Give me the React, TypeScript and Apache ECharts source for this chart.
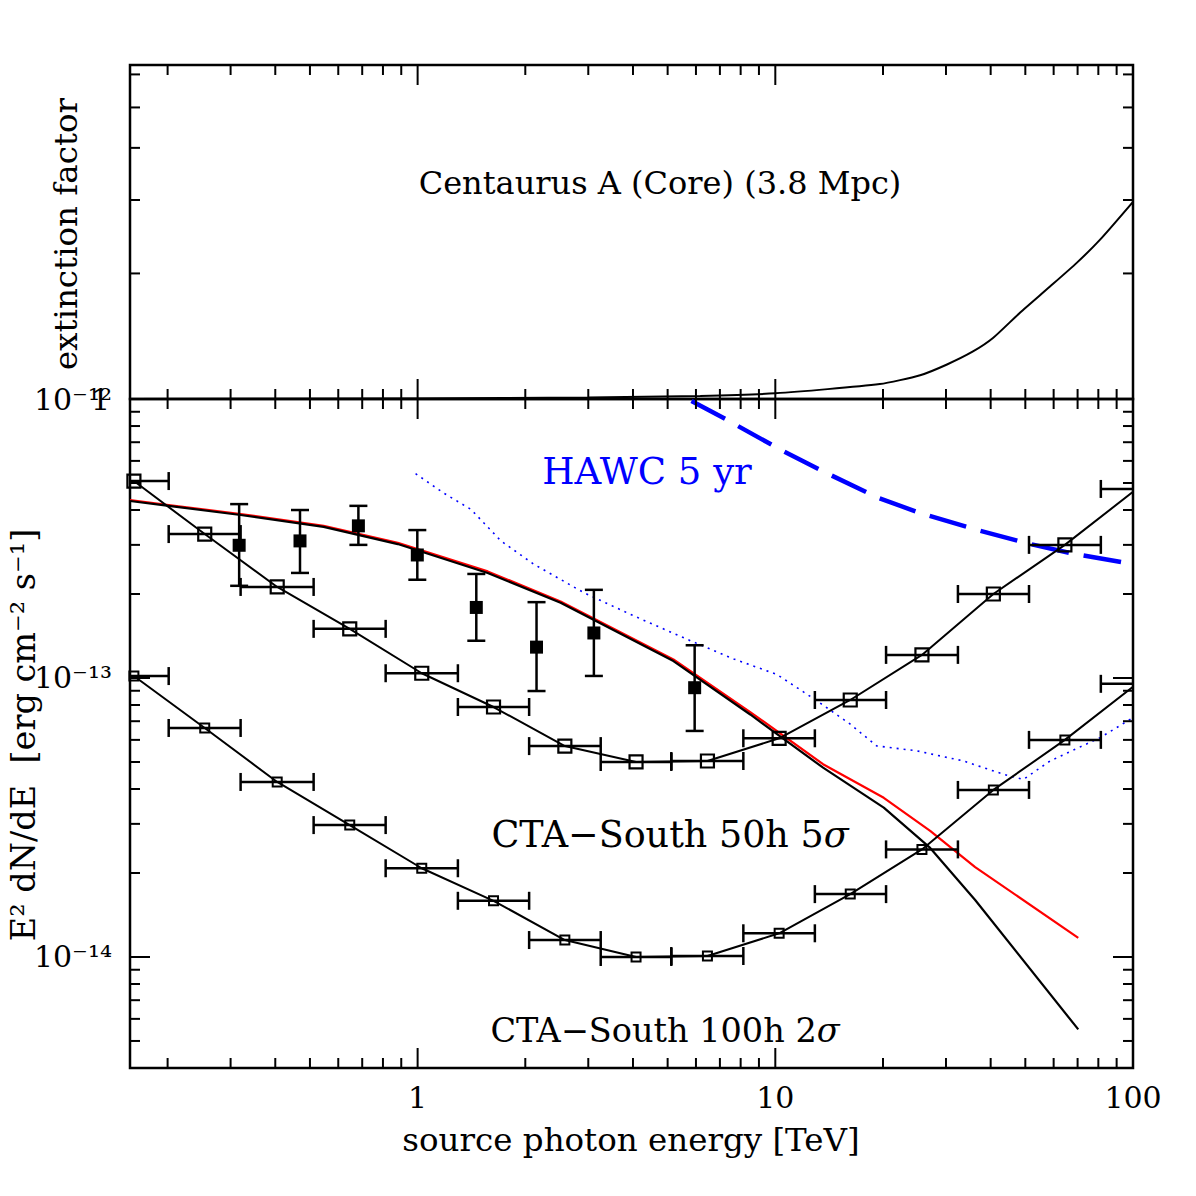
import React, { useEffect, useRef } from "react";
import * as echarts from "echarts";

const FONT = "DejaVu Serif";

// ---- data (energies in TeV, fluxes in units of 1e-13 erg cm^-2 s^-1) ----
const binLow = [0.127, 0.2014, 0.32, 0.512, 0.814, 1.296, 2.05, 3.25, 5.12, 8.14, 12.9, 20.4, 32.4, 51.2, 81.3];
const binMid = [0.161, 0.254, 0.405, 0.646, 1.027, 1.63, 2.58, 4.08, 6.46, 10.25, 16.2, 25.7, 40.7, 64.5, 102.4];
const binHigh = [0.2014, 0.32, 0.512, 0.814, 1.296, 2.05, 3.25, 5.12, 8.14, 12.9, 20.4, 32.4, 51.2, 81.3, 129];
const cta50h5s = [5.08, 3.28, 2.12, 1.5, 1.04, 0.787, 0.57, 0.5, 0.504, 0.608, 0.834, 1.21, 2.0, 3.0, 4.76];
const cta100h2s = [1.016, 0.662, 0.424, 0.297, 0.208, 0.159, 0.115, 0.1, 0.1008, 0.1216, 0.168, 0.243, 0.397, 0.6, 0.953];

const hessE = [0.317, 0.469, 0.683, 0.998, 1.459, 2.15, 3.11, 5.95];
const hessF = [2.99, 3.1, 3.51, 2.76, 1.79, 1.29, 1.45, 0.923];
const hessLo = [2.14, 2.38, 3.0, 2.25, 1.36, 0.898, 1.017, 0.646];
const hessHi = [4.2, 4.0, 4.14, 3.39, 2.36, 1.87, 2.07, 1.31];

const modelE = [0.157, 0.204, 0.32, 0.546, 0.88, 1.57, 2.51, 5.19, 8.51, 13.6, 20.1, 27.1, 36.2, 70.3];
const modelIntrinsic = [4.34, 4.16, 3.87, 3.51, 3.05, 2.41, 1.88, 1.165, 0.755, 0.491, 0.372, 0.283, 0.21, 0.117];
const modelAbsorbed = [4.31, 4.13, 3.84, 3.48, 3.02, 2.38, 1.86, 1.15, 0.74, 0.477, 0.343, 0.246, 0.16, 0.055];

const extE = [0.157, 1, 3, 6.17, 10, 19.6, 25.4, 30.2, 35.7, 40.6, 48.3, 58.6, 69.6, 80.9, 100];
const extFactor = [1.0, 1.003, 1.008, 1.017, 1.032, 1.086, 1.14, 1.21, 1.3, 1.4, 1.61, 1.86, 2.12, 2.41, 2.97];

const dotE = [0.987, 1.18, 1.41, 1.53, 1.71, 2.11, 2.92, 4.02, 5.79, 7.65, 10.1, 13.1, 16.2, 19.2, 24.9, 33.6, 43.4, 49.4, 58.6, 80.9, 100];
const dotF = [5.4, 4.61, 4.02, 3.6, 3.1, 2.56, 2.02, 1.67, 1.36, 1.17, 1.03, 0.827, 0.683, 0.571, 0.548, 0.504, 0.452, 0.433, 0.504, 0.611, 0.721];

const hawcE = [5.83, 7.25, 10.5, 14.06, 19.4, 25.9, 37.4, 51.6, 68.9, 100];
const hawcF = [9.84, 8.48, 6.51, 5.39, 4.42, 3.87, 3.37, 3.02, 2.78, 2.56];

// ---- axes ----
const X_MIN = 0.157;
const X_MAX = 100;
const YT_MIN = 1;
const YT_MAX = 6.32;
const YB_MIN = 0.04;
const YB_MAX = 10;
const Y_UNIT_EXP = -13;

const xMajorTicks = [1, 10, 100];
const xMinorTicks = [0.2, 0.3, 0.4, 0.5, 0.6, 0.7, 0.8, 0.9, 2, 3, 4, 5, 6, 7, 8, 9, 20, 30, 40, 50, 60, 70, 80, 90];
const yTopMajorTicks = [1];
const yTopMinorTicks = [2, 3, 4, 5, 6];
const yBotMajorTicks = [0.1, 1, 10];
const yBotMinorTicks = [0.05, 0.06, 0.07, 0.08, 0.09, 0.2, 0.3, 0.4, 0.5, 0.6, 0.7, 0.8, 0.9, 2, 3, 4, 5, 6, 7, 8, 9, 0.04];

const SUP: Record<string, string> = {
  "-": "\u207B", "0": "\u2070", "1": "\u00B9", "2": "\u00B2", "3": "\u00B3",
  "4": "\u2074", "5": "\u2075", "6": "\u2076", "7": "\u2077", "8": "\u2078", "9": "\u2079",
};

const zip = (a: number[], b: number[]) => a.map((v, i) => [v, b[i]]);

const MAJ = 20;
const MIN = 10;

function buildTicks(xMaj: number[], xMin: number[], yMaj: number[], yMin: number[], xRef: number, yRef: number) {
  const d: number[][] = [];
  xMaj.forEach((v) => d.push([v, yRef, 0, MAJ]));
  xMin.forEach((v) => d.push([v, yRef, 0, MIN]));
  yMaj.forEach((v) => d.push([xRef, v, 1, MAJ]));
  yMin.forEach((v) => d.push([xRef, v, 1, MIN]));
  return d;
}

const tickRender = (params: any, api: any) => {
  const kind = api.value(2);
  const len = api.value(3);
  const p = api.coord([api.value(0), api.value(1)]);
  const cs = params.coordSys;
  const style = { stroke: "#000", lineWidth: 2 };
  if (kind === 0) {
    const b = cs.y + cs.height;
    return {
      type: "group",
      children: [
        { type: "line", shape: { x1: p[0], y1: b, x2: p[0], y2: b - len }, style },
        { type: "line", shape: { x1: p[0], y1: cs.y, x2: p[0], y2: cs.y + len }, style },
      ],
    };
  }
  const r = cs.x + cs.width;
  return {
    type: "group",
    children: [
      { type: "line", shape: { x1: cs.x, y1: p[1], x2: cs.x + len, y2: p[1] }, style },
      { type: "line", shape: { x1: r, y1: p[1], x2: r - len, y2: p[1] }, style },
    ],
  };
};

const hBarRender = (params: any, api: any) => {
  const a = api.coord([api.value(0), api.value(2)]);
  const b = api.coord([api.value(1), api.value(2)]);
  const h = 9;
  const style = { stroke: "#000", lineWidth: 2.5 };
  return {
    type: "group",
    children: [
      { type: "line", shape: { x1: a[0], y1: a[1], x2: b[0], y2: b[1] }, style },
      { type: "line", shape: { x1: a[0], y1: a[1] - h, x2: a[0], y2: a[1] + h }, style },
      { type: "line", shape: { x1: b[0], y1: b[1] - h, x2: b[0], y2: b[1] + h }, style },
    ],
  };
};

const vBarRender = (params: any, api: any) => {
  const a = api.coord([api.value(0), api.value(1)]);
  const b = api.coord([api.value(0), api.value(2)]);
  const w = 9;
  const style = { stroke: "#000", lineWidth: 2.5 };
  return {
    type: "group",
    children: [
      { type: "line", shape: { x1: a[0], y1: a[1], x2: b[0], y2: b[1] }, style },
      { type: "line", shape: { x1: a[0] - w, y1: a[1], x2: a[0] + w, y2: a[1] }, style },
      { type: "line", shape: { x1: b[0] - w, y1: b[1], x2: b[0] + w, y2: b[1] }, style },
    ],
  };
};

const isPow10 = (v: number) => {
  const l = Math.log10(v);
  return Math.abs(l - Math.round(l)) < 1e-6;
};

const xFmt = (v: number) => (isPow10(v) ? String(Math.round(v)) : "");
const yBotFmt = (v: number) => {
  if (!isPow10(v)) return "";
  const e = Math.round(Math.log10(v)) + Y_UNIT_EXP;
  return "10" + String(e).split("").map((c) => SUP[c]).join("");
};
const yTopFmt = (v: number) => (Math.abs(v - 1) < 1e-9 ? "1" : "");

const textStyle = (text: string, size: number, color = "#000", extra: any = {}) => ({
  text,
  fontFamily: FONT,
  fontSize: size,
  fill: color,
  textAlign: "center",
  textVerticalAlign: "middle",
  align: "center",
  verticalAlign: "middle",
  ...extra,
});

const sigma = (size: number) => ({ rich: { s: { fontFamily: FONT, fontSize: size, fontStyle: "italic", fill: "#000" } } });

export default function App() {
  const ref = useRef<HTMLDivElement>(null);
  useEffect(() => {
    if (!ref.current) return;
    const chart = echarts.init(ref.current, undefined, { renderer: "svg" });
    const axisText = { fontFamily: FONT, fontSize: 30, color: "#000" };
    const option: any = {
      animation: false,
      backgroundColor: "#fff",
      grid: [
        { left: 130, top: 65, width: 1003, height: 334, show: true, borderColor: "#000", borderWidth: 2.5, backgroundColor: "transparent" },
        { left: 130, top: 399, width: 1003, height: 669, show: true, borderColor: "#000", borderWidth: 2.5, backgroundColor: "transparent" },
      ],
      xAxis: [
        { type: "log", logBase: 10, gridIndex: 0, min: X_MIN, max: X_MAX, axisLine: { show: false }, axisTick: { show: false }, axisLabel: { show: false }, splitLine: { show: false } },
        { type: "log", logBase: 10, gridIndex: 1, min: X_MIN, max: X_MAX, axisLine: { show: false }, axisTick: { show: false }, splitLine: { show: false },
          axisLabel: { ...axisText, formatter: xFmt, margin: 14, showMinLabel: true, showMaxLabel: true } },
      ],
      yAxis: [
        { type: "log", logBase: 10, gridIndex: 0, min: YT_MIN, max: YT_MAX, axisLine: { show: false }, axisTick: { show: false }, splitLine: { show: false },
          axisLabel: { ...axisText, formatter: yTopFmt, margin: 20, showMinLabel: true, showMaxLabel: true } },
        { type: "log", logBase: 10, gridIndex: 1, min: YB_MIN, max: YB_MAX, axisLine: { show: false }, axisTick: { show: false }, splitLine: { show: false },
          axisLabel: { ...axisText, formatter: yBotFmt, margin: 18, showMinLabel: true, showMaxLabel: true } },
      ],
      graphic: [
        { type: "text", x: 660, y: 183, style: textStyle("Centaurus A (Core) (3.8 Mpc)", 32) },
        { type: "text", x: 647, y: 471, style: textStyle("HAWC 5 yr", 37, "#0000ff") },
        { type: "text", x: 670, y: 834, style: textStyle("CTA\u2212South 50h 5{s|\u03C3}", 36.5, "#000", sigma(36.5)) },
        { type: "text", x: 665, y: 1030, style: textStyle("CTA\u2212South 100h 2{s|\u03C3}", 33.5, "#000", sigma(33.5)) },
        { type: "text", x: 66, y: 234, rotation: Math.PI / 2, style: textStyle("extinction factor", 32.5) },
        { type: "text", x: 23, y: 735, rotation: Math.PI / 2, style: textStyle("E\u00B2 dN/dE  [erg cm\u207B\u00B2 s\u207B\u00B9]", 33.5) },
        { type: "text", x: 631, y: 1140, style: textStyle("source photon energy [TeV]", 32.5) },
      ],
      series: [
        { type: "custom", xAxisIndex: 0, yAxisIndex: 0, silent: true, renderItem: tickRender, encode: { x: 0, y: 1 },
          data: buildTicks(xMajorTicks, xMinorTicks, yTopMajorTicks, yTopMinorTicks, 1, 2), z: 5 },
        { type: "custom", xAxisIndex: 1, yAxisIndex: 1, silent: true, renderItem: tickRender, encode: { x: 0, y: 1 },
          data: buildTicks(xMajorTicks, xMinorTicks, yBotMajorTicks, yBotMinorTicks, 1, 1), z: 5 },
        { type: "line", xAxisIndex: 0, yAxisIndex: 0, data: zip(extE, extFactor), symbol: "none", clip: true, smooth: 0.2,
          lineStyle: { color: "#000", width: 2 }, z: 3 },
        { type: "line", xAxisIndex: 1, yAxisIndex: 1, data: zip(hawcE, hawcF), symbol: "none", clip: true,
          lineStyle: { color: "#0000ff", width: 4.5, type: [38, 15] }, z: 3 },
        { type: "line", xAxisIndex: 1, yAxisIndex: 1, data: zip(dotE, dotF), symbol: "none", clip: true,
          lineStyle: { color: "#0000ff", width: 1.6, type: [2, 5] }, z: 3 },
        { type: "line", xAxisIndex: 1, yAxisIndex: 1, data: zip(modelE, modelIntrinsic), symbol: "none", clip: true,
          lineStyle: { color: "#ff0000", width: 2.2 }, z: 3 },
        { type: "line", xAxisIndex: 1, yAxisIndex: 1, data: zip(modelE, modelAbsorbed), symbol: "none", clip: true,
          lineStyle: { color: "#000", width: 2.2 }, z: 3 },
        { type: "custom", xAxisIndex: 1, yAxisIndex: 1, silent: true, clip: true, renderItem: hBarRender, encode: { x: [0, 1], y: 2 },
          data: binLow.map((l, i) => [l, binHigh[i], cta50h5s[i]]), z: 4 },
        { type: "line", xAxisIndex: 1, yAxisIndex: 1, data: zip(binMid, cta50h5s), clip: true, symbol: "rect", symbolSize: 13,
          itemStyle: { color: "rgba(0,0,0,0)", borderColor: "#000", borderWidth: 2.2 }, lineStyle: { color: "#000", width: 2 }, z: 4 },
        { type: "custom", xAxisIndex: 1, yAxisIndex: 1, silent: true, clip: true, renderItem: hBarRender, encode: { x: [0, 1], y: 2 },
          data: binLow.map((l, i) => [l, binHigh[i], cta100h2s[i]]), z: 4 },
        { type: "line", xAxisIndex: 1, yAxisIndex: 1, data: zip(binMid, cta100h2s), clip: true, symbol: "rect", symbolSize: 9,
          itemStyle: { color: "rgba(0,0,0,0)", borderColor: "#000", borderWidth: 2 }, lineStyle: { color: "#000", width: 2 }, z: 4 },
        { type: "custom", xAxisIndex: 1, yAxisIndex: 1, silent: true, clip: true, renderItem: vBarRender, encode: { x: 0, y: [1, 2] },
          data: hessE.map((e, i) => [e, hessLo[i], hessHi[i]]), z: 4 },
        { type: "scatter", xAxisIndex: 1, yAxisIndex: 1, data: zip(hessE, hessF), symbol: "rect", symbolSize: 13,
          itemStyle: { color: "#000", opacity: 1 }, z: 5 },
      ],
    };
    chart.setOption(option);
    return () => chart.dispose();
  }, []);
  return (
    <div
      ref={ref}
      style={{ position: "absolute", left: 0, top: 0, width: 1196, height: 1196, background: "#fff" }}
    />
  );
}
